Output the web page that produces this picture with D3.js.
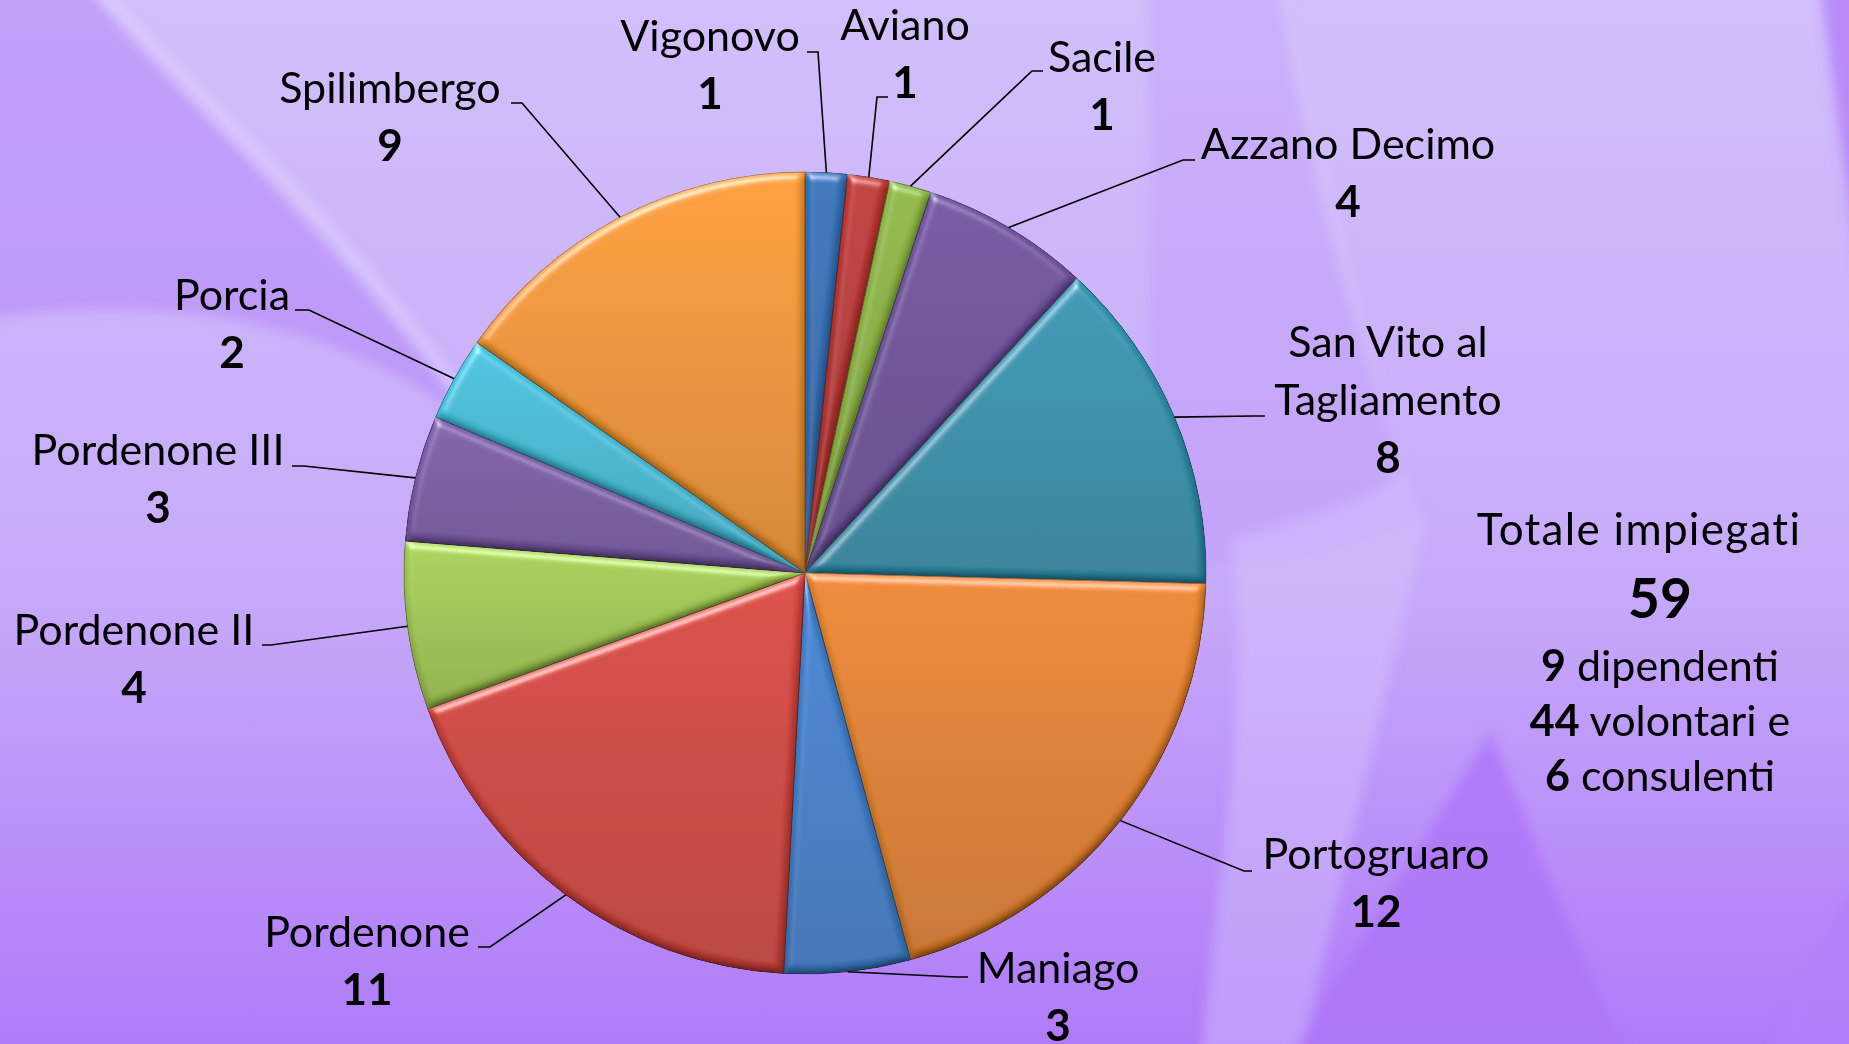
<!DOCTYPE html>
<html>
<head>
<meta charset="utf-8">
<script src="https://cdn.jsdelivr.net/npm/d3@7"></script>
<style>
  html, body { margin: 0; padding: 0; overflow: hidden; background: #c9adfa; }
  text { fill: #000; }
  .lbl { font-family: Lato, "Noto Sans", sans-serif; font-size: 43px; }
  .val { font-family: Lato, "Noto Sans", sans-serif; font-size: 44px; font-weight: 700; }
</style>
</head>
<body>
<svg id="chart"></svg>
<script>
/* dati del grafico */
const categories = ['Vigonovo', 'Aviano', 'Sacile', 'Azzano Decimo', 'San Vito al Tagliamento',
  'Portogruaro', 'Maniago', 'Pordenone', 'Pordenone II', 'Pordenone III', 'Porcia', 'Spilimbergo']
const values = [1, 1, 1, 4, 8, 12, 3, 11, 4, 3, 2, 9]

const staffCounts = [9, 44, 6]
const staffKinds = ['dipendenti', 'volontari e', 'consulenti']

/* colori fette (tono alto del gradiente) */
const colors = ['#3473ba', '#be3733', '#8fb843', '#7152a0', '#3197b3', '#ec872c',
  '#4386d4', '#d9473f', '#a8d055', '#7e5dab', '#45c3de', '#fb9d33']

/* posizione etichette: [centro x, linea base, fine linea x, fine linea y, gomito dx] */
const labelPos = [
  [710, 51, 807, 52, 11],
  [905, 40, 888, 97, -11],
  [1102, 72, 1043, 71, -11],
  [1348, 159, 1195, 160, -12],
  [1388, 357, 1265, 416, -12],
  [1376, 869, 1252, 871, -8],
  [1058, 983, 968, 977, -12],
  [367, 947, 478, 947, 12],
  [134, 645, 262, 645, 9],
  [158, 465, 292, 466, 12],
  [232, 310, 295, 310, 14],
  [390, 103, 511, 103, 11]
]

const width = 1849, height = 1044
const cx = 805, cy = 573, radius = 401
const lineH = 58

const svg = d3.select('#chart').attr('width', width).attr('height', height)
const defs = svg.append('defs')

/* sfondo */
const bg = defs.append('linearGradient').attr('id', 'bgGrad')
  .attr('x1', 0).attr('y1', 0).attr('x2', 0).attr('y2', 1)
bg.append('stop').attr('offset', 0).attr('stop-color', '#d2bffb')
bg.append('stop').attr('offset', 0.55).attr('stop-color', '#c7abfa')
bg.append('stop').attr('offset', 1).attr('stop-color', '#b07bf8')

const soft = defs.append('filter').attr('id', 'soft')
  .attr('x', '-20%').attr('y', '-20%').attr('width', '140%').attr('height', '140%')
soft.append('feGaussianBlur').attr('stdDeviation', 6)

svg.append('rect').attr('width', width).attr('height', height).attr('fill', 'url(#bgGrad)')

const swoosh = svg.append('g').attr('filter', 'url(#soft)')
// cuneo scuro in alto a sinistra
swoosh.append('path')
  .attr('d', 'M-20,-20 L80,-20 C190,110 330,230 470,420 C330,320 160,290 -20,320 Z')
  .attr('fill', '#b585f7').attr('opacity', 0.55)
// banda chiara lungo il cuneo
swoosh.append('path')
  .attr('d', 'M90,-20 C200,100 340,220 480,420')
  .attr('fill', 'none').attr('stroke', '#e2d6fd').attr('stroke-width', 10).attr('opacity', 0.6)
// zona piu scura a destra della torta
swoosh.append('path')
  .attr('d', 'M1150,-20 L1275,-20 C1310,180 1360,360 1420,520 C1330,560 1250,570 1150,560 Z')
  .attr('fill', '#bd96f9').attr('opacity', 0.35)
// banda chiara
swoosh.append('path')
  .attr('d', 'M1280,-20 C1315,180 1360,360 1425,525 L1300,1060 L1200,1060 C1230,800 1250,650 1230,540 C1300,520 1380,500 1400,470 Z')
  .attr('fill', '#dacbfc').attr('opacity', 0.4)
// triangolo scuro in basso a destra
swoosh.append('path')
  .attr('d', 'M1490,733 L1625,1060 L1288,1060 Z')
  .attr('fill', '#ae76f8').attr('opacity', 0.85)
// angoli scuri a destra
swoosh.append('path')
  .attr('d', 'M1820,-20 L1870,-20 L1870,330 C1850,220 1835,100 1820,-20 Z')
  .attr('fill', '#b27ef8').attr('opacity', 0.8)
swoosh.append('path')
  .attr('d', 'M1870,860 L1870,1060 L1770,1060 C1800,990 1830,920 1870,860 Z')
  .attr('fill', '#b27ef8').attr('opacity', 0.8)

/* effetto smusso delle fette */
const bevel = defs.append('filter').attr('id', 'bevel')
  .attr('x', '-5%').attr('y', '-5%').attr('width', '110%').attr('height', '110%')
bevel.append('feGaussianBlur').attr('in', 'SourceAlpha').attr('stdDeviation', 4).attr('result', 'blur')
bevel.append('feDiffuseLighting').attr('in', 'blur').attr('surfaceScale', 5)
  .attr('diffuseConstant', 1).attr('lighting-color', '#fff').attr('result', 'diff')
  .append('feDistantLight').attr('azimuth', 250).attr('elevation', 60)
bevel.append('feSpecularLighting').attr('in', 'blur').attr('surfaceScale', 5)
  .attr('specularConstant', 0.9).attr('specularExponent', 30).attr('lighting-color', '#fff').attr('result', 'spec')
  .append('feDistantLight').attr('azimuth', 250).attr('elevation', 40)
bevel.append('feComposite').attr('in', 'SourceGraphic').attr('in2', 'diff')
  .attr('operator', 'arithmetic').attr('k1', 1.155).attr('k2', 0).attr('k3', 0).attr('k4', 0).attr('result', 'shaded')
bevel.append('feComposite').attr('in', 'spec').attr('in2', 'SourceAlpha').attr('operator', 'in').attr('result', 'specIn')
bevel.append('feComposite').attr('in', 'shaded').attr('in2', 'specIn')
  .attr('operator', 'arithmetic').attr('k1', 0).attr('k2', 1).attr('k3', 0.5).attr('k4', 0).attr('result', 'lit')
bevel.append('feComposite').attr('in', 'lit').attr('in2', 'SourceAlpha').attr('operator', 'in')

/* gradienti per fetta */
colors.forEach((c, i) => {
  const g = defs.append('linearGradient').attr('id', 'slice' + i)
    .attr('x1', 0).attr('y1', 0).attr('x2', 0).attr('y2', 1)
  g.append('stop').attr('offset', 0).attr('stop-color', c)
  g.append('stop').attr('offset', 1).attr('stop-color', d3.color(c).darker(0.5))
})

/* torta */
const data = categories.map((name, i) => ({ name: name, value: values[i], i: i }))
const pie = d3.pie().value(d => d.value).sort(null)
const arcs = pie(data)

const arc = d3.arc().innerRadius(0).outerRadius(radius)
const edgeArc = d3.arc().innerRadius(radius).outerRadius(radius)

const pieG = svg.append('g').attr('transform', 'translate(' + cx + ',' + cy + ')')

pieG.selectAll('path.slice')
  .data(arcs)
  .enter()
  .append('path')
  .attr('class', 'slice')
  .attr('d', arc)
  .attr('fill', d => 'url(#slice' + d.data.i + ')')
  .attr('stroke', d => d3.color(colors[d.data.i]).darker(1.4))
  .attr('stroke-width', 1)
  .attr('filter', 'url(#bevel)')

/* linee guida */
const leaders = svg.append('g')
leaders.selectAll('polyline')
  .data(arcs)
  .enter()
  .append('polyline')
  .attr('points', d => {
    const p = edgeArc.centroid(d)
    const lp = labelPos[d.data.i]
    return [[p[0] + cx, p[1] + cy], [lp[2] + lp[4], lp[3]], [lp[2], lp[3]]].map(q => q.join(',')).join(' ')
  })
  .attr('fill', 'none')
  .attr('stroke', '#000')
  .attr('stroke-width', 1.6)

/* etichette */
const labels = svg.append('g')
arcs.forEach(d => {
  const lp = labelPos[d.data.i]
  const lines = d.data.name === 'San Vito al Tagliamento' ? ['San Vito al', 'Tagliamento'] : [d.data.name]
  lines.forEach((t, k) => {
    labels.append('text').attr('class', 'lbl')
      .attr('x', lp[0]).attr('y', lp[1] + k * lineH)
      .attr('text-anchor', 'middle').text(t)
  })
  labels.append('text').attr('class', 'val')
    .attr('x', lp[0]).attr('y', lp[1] + lines.length * lineH)
    .attr('text-anchor', 'middle').text(d.data.value)
})

/* riquadro totale */
const total = d3.sum(values)
const tot = svg.append('g')
tot.append('text')
  .attr('x', 1639).attr('y', 545).attr('text-anchor', 'middle')
  .style('font-family', '"Comic Sans MS", Lato, sans-serif')
  .style('font-size', '44px').style('letter-spacing', '1.3px')
  .text('Totale impiegati')
tot.append('text')
  .attr('x', 1660).attr('y', 618).attr('text-anchor', 'middle')
  .style('font-family', 'Lato, sans-serif').style('font-size', '55px').style('font-weight', 700)
  .text(total)
staffCounts.forEach((n, k) => {
  const t = tot.append('text')
    .attr('x', 1660).attr('y', 681 + k * 55).attr('text-anchor', 'middle')
    .style('font-family', 'Lato, sans-serif').style('font-size', '43px')
  t.append('tspan').style('font-weight', 700).text(n)
  t.append('tspan').text(' ' + staffKinds[k])
})
</script>
</body>
</html>
